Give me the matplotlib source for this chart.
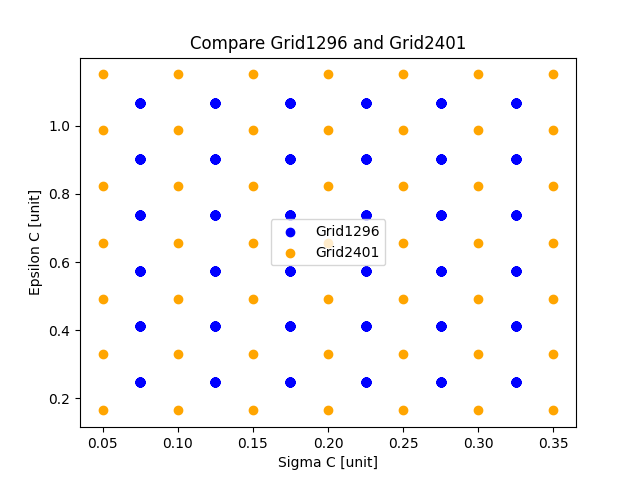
import numpy as np
import matplotlib
matplotlib.use("Agg")
import matplotlib.pyplot as plt

# Grid points (sigma, epsilon); each 2D point repeats over the other two grid dimensions
sigma_1296 = [0.075, 0.125, 0.175, 0.225, 0.275, 0.325]
eps_1296 = [0.247, 0.411, 0.575, 0.739, 0.903, 1.067]
sigma_2401 = [0.05, 0.10, 0.15, 0.20, 0.25, 0.30, 0.35]
eps_2401 = [0.165, 0.329, 0.493, 0.657, 0.822, 0.986, 1.15]
repeats_1296 = 36
repeats_2401 = 49

x1, y1 = np.meshgrid(sigma_1296, eps_1296)
x2, y2 = np.meshgrid(sigma_2401, eps_2401)

plt.figure(figsize=(6.4, 4.8))
plt.scatter(np.tile(x1.ravel(), repeats_1296), np.tile(y1.ravel(), repeats_1296),
            color='blue', label='Grid1296')
plt.scatter(x2.ravel(), y2.ravel(), color='orange', label='Grid2401')
plt.title('Compare Grid1296 and Grid2401')
plt.xlabel('Sigma C [unit]')
plt.ylabel('Epsilon C [unit]')
plt.legend(loc='center')
plt.savefig('out.png', dpi=100)
